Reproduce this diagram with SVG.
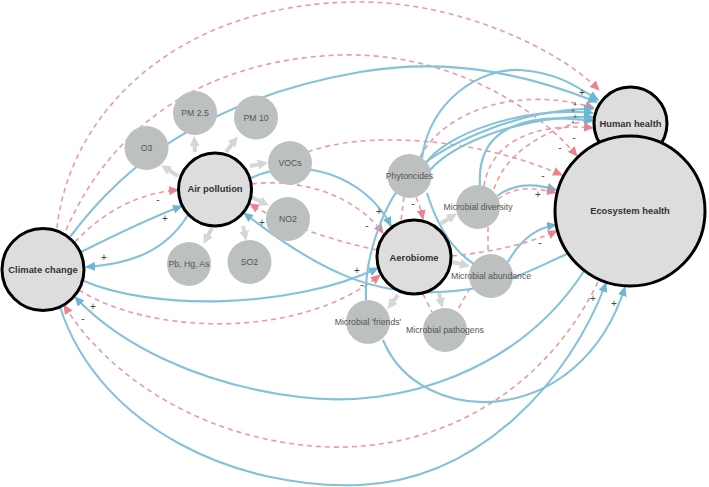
<svg xmlns="http://www.w3.org/2000/svg" width="709" height="487" viewBox="0 0 709 487">
<defs>
<marker id="ab" viewBox="0 0 10 9" refX="9" refY="4.5" markerWidth="10" markerHeight="9" markerUnits="userSpaceOnUse" orient="auto"><path d="M0,0 L10,4.5 L0,9 z" fill="#6db6d5"/></marker>
<marker id="ap" viewBox="0 0 10 9" refX="9" refY="4.5" markerWidth="10" markerHeight="9" markerUnits="userSpaceOnUse" orient="auto"><path d="M0,0 L10,4.5 L0,9 z" fill="#e8848f"/></marker>
<marker id="ag" viewBox="0 0 10 10" refX="3" refY="5" markerWidth="10" markerHeight="10" markerUnits="userSpaceOnUse" orient="auto"><path d="M0,0 L10,5 L0,10 z" fill="#d6d6d6"/></marker>
<style>
.b{fill:none;stroke:#84c2da;stroke-width:2.1}
.p{fill:none;stroke:#eb9aa4;stroke-width:1.6;stroke-dasharray:5 4}
.g{fill:none;stroke:#d6d6d6;stroke-width:4}
.ma{marker-end:url(#ab)}
.mp{marker-end:url(#ap)}
.mg{marker-end:url(#ag)}
.big{fill:#dddddd;stroke:#000;stroke-width:3}
.sm{fill:#bcc1c0}
.bt{font-family:"Liberation Sans",Arial,sans-serif;font-weight:bold;font-size:9.4px;fill:#333;text-anchor:middle;dominant-baseline:central}
.st{font-family:"Liberation Sans",Arial,sans-serif;font-size:8.7px;fill:#555;text-anchor:middle;dominant-baseline:central}
.sg{font-family:"Liberation Sans",Arial,sans-serif;font-size:10px;fill:#444;text-anchor:middle;dominant-baseline:central}
.sk{font-family:"Liberation Sans",Arial,sans-serif;font-size:7px;fill:#444;text-anchor:middle;dominant-baseline:central}
</style>
</defs>
<rect width="709" height="487" fill="#fff"/>
<g id="connectors">
<path class="p mp" d="M57,228 C 70,110 180,2 360,2 C 460,2 560,50 599,90"/>
<path class="p mp" d="M66,230 C 110,130 200,60 340,55 C 440,52 530,100 577,156"/>
<path class="p mp" d="M75,242 C 105,210 140,193 178,190"/>
<path class="p mp" d="M79,290 C 150,335 300,340 380,275"/>
<path class="p mp" d="M598,282 C 540,400 430,450 330,447 C 210,443 110,380 64,305"/>
<path class="p mp" d="M252,184 C 300,178 355,195 383,233"/>
<path class="p mp" d="M377,250 C 340,242 290,228 250,204"/>
<path class="p mp" d="M420,157 C 445,110 520,85 594,108"/>
<path class="p mp" d="M484,186 C 490,145 530,122 593,128"/>
<path class="p mp" d="M494,189 C 505,155 540,130 593,119"/>
<path class="p mp" d="M308,152 C 360,132 470,135 562,175"/>
<path class="p mp" d="M452,256 C 490,252 525,245 557,231"/>
<path class="p mp" d="M416,197 C 419,204 421,209 423,219"/>
<path class="p" d="M488,227 L488,254"/>
<path class="p" d="M404,197 L401,221"/>
<path class="p" d="M423,294 L432,312"/>
<path class="p" d="M470,288 L457,311"/>
<path class="b ma" d="M70,237 C 120,170 200,100 360,72 C 460,55 540,80 597,102"/>
<path class="b ma" d="M81,252 C 115,235 150,218 182,206"/>
<path class="b ma" d="M188,215 C 165,252 130,264 86,267"/>
<path class="b ma" d="M84,281 C 150,310 290,310 378,268"/>
<path class="b ma" d="M584,271 C 520,370 400,410 300,397 C 200,385 120,345 75,297"/>
<path class="b ma" d="M60,307 C 100,430 240,490 360,485 C 480,480 570,380 606,283"/>
<path class="b ma" d="M383,340 C 420,430 580,430 625,287"/>
<path class="b ma" d="M567,254 C 530,270 500,290 440,292 C 380,294 330,280 244,213"/>
<path class="b ma" d="M251,178 C 300,155 365,175 391,226"/>
<path class="b ma" d="M366,300 C 364,255 385,200 410,175 C 450,138 530,108 593,109"/>
<path class="b ma" d="M422,158 C 430,100 480,68 520,70 C 555,72 575,85 598,100"/>
<path class="b ma" d="M426,163 C 445,135 520,106 593,113"/>
<path class="b ma" d="M430,170 C 455,142 525,115 593,117"/>
<path class="b ma" d="M480,185 C 476,125 530,112 593,121"/>
<path class="b" d="M427,193 C 437,225 452,250 474,264"/>
<path class="b ma" d="M508,262 C 520,240 535,228 556,225"/>
<path class="b ma" d="M497,196 C 515,183 535,183 556,190"/>
<path class="p mp" d="M498,199 C 515,186 535,187 556,193"/>
<path class="g mg" d="M178,176 L167,169"/>
<path class="g mg" d="M195,152 L194.5,143"/>
<path class="g mg" d="M226,152 L233.5,142"/>
<path class="g mg" d="M250,166 L261,164"/>
<path class="g mg" d="M251,197 L262.6,202.4"/>
<path class="g mg" d="M212,228 L206.8,237.7"/>
<path class="g mg" d="M243,226 L244.7,234"/>
<path class="g mg" d="M440,224 L451,217.2"/>
<path class="g mg" d="M452,262 L463.2,264.6"/>
<path class="g mg" d="M398,295 L391.7,303.3"/>
<path class="g mg" d="M439,293 L440.7,301"/>
</g>
<g id="node-o3"><circle class="sm" cx="146.5" cy="148" r="22"/><text class="st" x="146.5" y="148">O3</text></g>
<g id="node-pm25"><circle class="sm" cx="195" cy="113" r="22"/><text class="st" x="195" y="113">PM 2.5</text></g>
<g id="node-pm10"><circle class="sm" cx="256" cy="117.5" r="22"/><text class="st" x="256" y="117.5">PM 10</text></g>
<g id="node-vocs"><circle class="sm" cx="290" cy="163" r="22"/><text class="st" x="290" y="163">VOCs</text></g>
<g id="node-no2"><circle class="sm" cx="288" cy="219" r="22"/><text class="st" x="288" y="219">NO2</text></g>
<g id="node-pb"><circle class="sm" cx="189" cy="264" r="22"/><text class="st" x="189" y="264">Pb, Hg, As</text></g>
<g id="node-so2"><circle class="sm" cx="249.5" cy="262" r="22"/><text class="st" x="249.5" y="262">SO2</text></g>
<g id="node-phytoncides"><circle class="sm" cx="409.5" cy="176" r="22"/><text class="st" x="409.5" y="176">Phytoncides</text></g>
<g id="node-diversity"><circle class="sm" cx="478" cy="207" r="22"/><text class="st" x="478" y="207">Microbial diversity</text></g>
<g id="node-abundance"><circle class="sm" cx="491" cy="276" r="22"/><text class="st" x="491" y="276">Microbial abundance</text></g>
<g id="node-friends"><circle class="sm" cx="368" cy="322" r="22"/><text class="st" x="368" y="322">Microbial 'friends'</text></g>
<g id="node-pathogens"><circle class="sm" cx="445" cy="330" r="22"/><text class="st" x="445" y="330">Microbial pathogens</text></g>
<g id="node-climate"><circle class="big" cx="43" cy="269.5" r="41"/><text class="bt" x="43" y="269">Climate change</text></g>
<g id="node-air"><circle class="big" cx="215" cy="189.5" r="36.5"/><text class="bt" x="215" y="188.5">Air pollution</text></g>
<g id="node-aerobiome"><circle class="big" cx="414" cy="257" r="37"/><text class="bt" x="414" y="257">Aerobiome</text></g>
<g id="node-human"><circle class="big" cx="630.5" cy="123.5" r="36.5"/><text class="bt" x="630.5" y="123">Human health</text></g>
<g id="node-ecosystem"><circle class="big" cx="630" cy="211" r="75"/><text class="bt" x="630" y="210">Ecosystem health</text></g>
<g id="signs">
<text class="sg" x="158" y="199">-</text>
<text class="sg" x="165" y="218">+</text>
<text class="sg" x="104" y="257">+</text>
<text class="sg" x="357" y="270">+</text>
<text class="sg" x="362" y="284">-</text>
<text class="sg" x="93" y="306">+</text>
<text class="sg" x="83" y="318">-</text>
<text class="sg" x="593" y="298">+</text>
<text class="sg" x="614" y="303">+</text>
<text class="sg" x="262" y="222">+</text>
<text class="sg" x="379" y="211">+</text>
<text class="sg" x="367" y="225">-</text>
<text class="sg" x="413" y="203">-</text>
<text class="sg" x="582" y="92">+</text>
<text class="sk" x="575" y="104">+</text>
<text class="sk" x="573" y="110">+</text>
<text class="sk" x="575" y="116">+</text>
<text class="sk" x="573" y="122">+</text>
<text class="sg" x="574" y="137">-</text>
<text class="sg" x="560" y="147">-</text>
<text class="sg" x="543" y="175">-</text>
<text class="sg" x="538" y="194">+</text>
<text class="sg" x="540" y="242">-</text>
</g>
</svg>
